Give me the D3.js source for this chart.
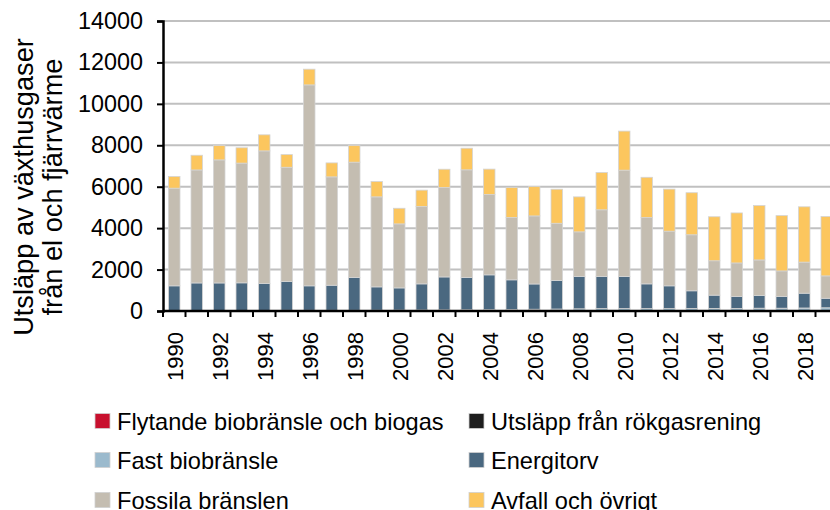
<!DOCTYPE html>
<html>
<head>
<meta charset="utf-8">
<script src="https://cdn.jsdelivr.net/npm/d3@7"></script>
<style>
  body { margin: 0; background: #fff; }
  svg { display: block; font-family: "Liberation Sans", Arial, sans-serif; }
</style>
</head>
<body>
<svg id="chart" width="830" height="510"></svg>
<script>
const years = d3.range(1990, 2020);
const yTicks = [0, 2000, 4000, 6000, 8000, 10000, 12000, 14000];

const flytande = [5, 5, 5, 5, 5, 5, 5, 5, 5, 5, 5, 5, 5, 5, 5, 5, 5, 5, 5, 5, 5, 5, 5, 5, 5, 5, 5, 5, 5, 5];
const rokgas = [0, 0, 0, 0, 0, 0, 0, 0, 0, 0, 0, 0, 0, 0, 0, 0, 0, 0, 0, 0, 0, 0, 0, 0, 0, 0, 0, 0, 0, 0];
const fastBio = [20, 20, 20, 25, 25, 30, 30, 30, 30, 35, 40, 45, 50, 55, 60, 70, 80, 90, 100, 110, 110, 110, 110, 120, 120, 120, 130, 130, 140, 150];
const energitorv = [1190, 1330, 1330, 1330, 1295, 1385, 1180, 1210, 1580, 1125, 1070, 1260, 1590, 1555, 1680, 1430, 1220, 1375, 1560, 1550, 1550, 1195, 1100, 850, 640, 570, 610, 560, 715, 460];
const fossila = [4715, 5455, 5940, 5780, 6405, 5520, 9700, 5230, 5570, 4345, 3090, 3735, 4315, 5200, 3880, 3010, 3285, 2765, 2155, 3220, 5135, 3200, 2640, 2705, 1660, 1625, 1720, 1240, 1500, 1080];
const avfall = [560, 710, 690, 740, 775, 610, 760, 675, 805, 740, 755, 790, 885, 1045, 1225, 1450, 1415, 1645, 1690, 1800, 1885, 1945, 2030, 2030, 2125, 2415, 2625, 2670, 2670, 2865];

const series = [
  { key: "flytande", name: "Flytande biobränsle och biogas", color: "#c8102e", values: flytande },
  { key: "rokgas", name: "Utsläpp från rökgasrening", color: "#1e1e1e", values: rokgas },
  { key: "fast", name: "Fast biobränsle", color: "#9bbacd", values: fastBio },
  { key: "torv", name: "Energitorv", color: "#4a6880", values: energitorv },
  { key: "fossil", name: "Fossila bränslen", color: "#c4bdb1", values: fossila },
  { key: "avfall", name: "Avfall och övrigt", color: "#fcc65e", values: avfall }
];

const svg = d3.select("#chart");
const plotLeft = 163, plotTop = 21, plotBottom = 311;
const step = 22.5;

const rows = years.map((yr, i) => {
  const r = { year: yr };
  series.forEach(s => { r[s.key] = s.values[i]; });
  return r;
});
const stacked = d3.stack().keys(series.map(s => s.key))(rows);

const x = d3.scaleBand()
  .domain(years)
  .range([plotLeft, plotLeft + step * years.length])
  .paddingInner(0.49)
  .paddingOuter(0.245);

const y = d3.scaleLinear()
  .domain([0, 14000])
  .range([plotBottom, plotTop]);

// gridlines
svg.append("g")
  .selectAll("line")
  .data(yTicks.filter(d => d > 0))
  .join("line")
  .attr("x1", plotLeft)
  .attr("x2", 830)
  .attr("y1", d => y(d))
  .attr("y2", d => y(d))
  .attr("stroke", "#c0c0c0")
  .attr("stroke-width", 2);

// bars
svg.append("g")
  .selectAll("g")
  .data(stacked)
  .join("g")
  .attr("fill", (d, i) => series[i].color)
  .selectAll("rect")
  .data(d => d)
  .join("rect")
  .attr("x", d => x(d.data.year))
  .attr("width", x.bandwidth())
  .attr("y", d => y(d[1]))
  .attr("height", d => Math.max(0, y(d[0]) - y(d[1])))
  .attr("stroke", "#d4d4d4")
  .attr("stroke-width", 0.8);

// y axis
const yAxis = svg.append("g")
  .attr("transform", `translate(${plotLeft},0)`)
  .call(d3.axisLeft(y).tickValues(yTicks).tickSize(6).tickPadding(14).tickFormat(d3.format("d")));
yAxis.select(".domain").attr("stroke", "#000").attr("stroke-width", 2.5);
yAxis.selectAll(".tick line").attr("stroke", "#000").attr("stroke-width", 2);
yAxis.selectAll("text")
  .attr("font-size", 23.4)
  .attr("fill", "#000")
  .attr("font-family", "Liberation Sans, Arial, sans-serif");

// x axis line and ticks at band boundaries
const bounds = years.map(yr => x(yr) - x.step() * x.paddingInner() / 2).concat([x.range()[1]]);
svg.append("line")
  .attr("x1", plotLeft)
  .attr("x2", 830)
  .attr("y1", plotBottom)
  .attr("y2", plotBottom)
  .attr("stroke", "#000")
  .attr("stroke-width", 2.5);
svg.append("g")
  .selectAll("line")
  .data(bounds)
  .join("line")
  .attr("x1", d => d)
  .attr("x2", d => d)
  .attr("y1", plotBottom)
  .attr("y2", plotBottom + 6)
  .attr("stroke", "#000")
  .attr("stroke-width", 2);

// x labels, every other year
svg.append("g")
  .selectAll("text")
  .data(years.filter(yr => yr % 2 === 0))
  .join("text")
  .attr("transform", d => `translate(${x(d) + x.bandwidth() / 2},${plotBottom + 21}) rotate(-90)`)
  .attr("dy", "0.4em")
  .attr("text-anchor", "end")
  .attr("font-size", 22)
  .text(d => d);

// y title
const title = svg.append("text")
  .attr("transform", "translate(0,187) rotate(-90)")
  .attr("text-anchor", "middle")
  .attr("font-size", 27.2);
title.append("tspan").attr("x", 0).attr("y", 33).text("Utsläpp av växthusgaser");
title.append("tspan").attr("x", 0).attr("y", 62).text("från el och fjärrvärme");

// legend
const legendX = [95, 469];
const legendY = [421, 460, 500];
const legend = svg.append("g")
  .selectAll("g")
  .data(series)
  .join("g")
  .attr("transform", (d, i) => `translate(${legendX[i % 2]},${legendY[Math.floor(i / 2)]})`);
legend.append("rect")
  .attr("x", 0)
  .attr("y", -7.5)
  .attr("width", 15)
  .attr("height", 15)
  .attr("fill", d => d.color)
  .attr("stroke", "#d0d0d0")
  .attr("stroke-width", 0.8);
legend.append("text")
  .attr("x", 22)
  .attr("dy", "0.36em")
  .attr("font-size", 23.6)
  .text(d => d.name);
</script>
</body>
</html>
